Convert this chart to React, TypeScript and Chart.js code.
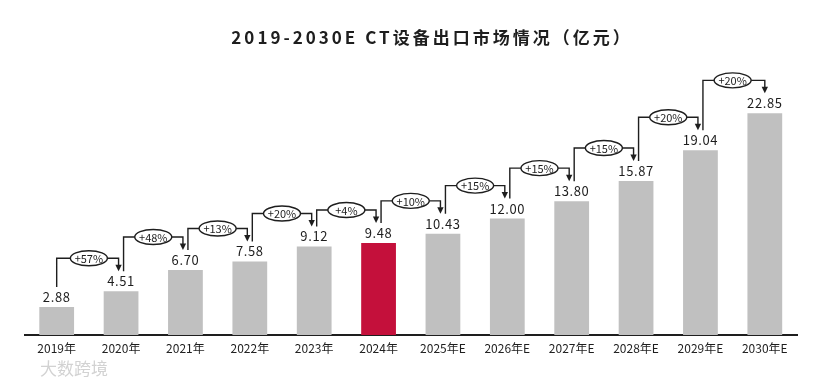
import React, { useEffect, useRef } from "react";
import { Chart, registerables } from "chart.js";

Chart.register(...registerables);

const categories = ["2019年", "2020年", "2021年", "2022年", "2023年", "2024年", "2025年E", "2026年E", "2027年E", "2028年E", "2029年E", "2030年E"];
const values = [2.88, 4.51, 6.7, 7.58, 9.12, 9.48, 10.43, 12.0, 13.8, 15.87, 19.04, 22.85];
const growthLabels = ["+57%", "+48%", "+13%", "+20%", "+4%", "+10%", "+15%", "+15%", "+15%", "+20%", "+20%"];
const highlightIndex = 5;
const titleText = "2019-2030E CT设备出口市场情况（亿元）";

const GRAY = "#c0c0c0";
const RED = "#c4103b";
const INK = "#1e1e1e";
const FONT = '"Noto Sans CJK SC", "Noto Sans", sans-serif';

const overlayPlugin = {
  id: "overlay",
  afterDatasetsDraw(chart: any) {
    const ctx = chart.ctx as CanvasRenderingContext2D;
    const meta = chart.getDatasetMeta(0);
    const bars = meta.data as any[];
    ctx.save();

    // value labels
    ctx.fillStyle = INK;
    ctx.font = `13px ${FONT}`;
    (ctx as any).letterSpacing = "0.6px";
    ctx.textAlign = "center";
    ctx.textBaseline = "middle";
    bars.forEach((b, i) => {
      ctx.fillText(values[i].toFixed(2), b.x, b.y - 10);
    });
    (ctx as any).letterSpacing = "0px";

    // growth brackets
    ctx.strokeStyle = INK;
    ctx.lineWidth = 1.4;
    for (let i = 0; i < bars.length - 1; i++) {
      const a = bars[i];
      const b = bars[i + 1];
      const xs = a.x + (i === 0 ? 0 : 2.5);
      const xe = b.x - (i === bars.length - 2 ? 0 : 2.5);
      const ys = a.y - 20;
      const yh = b.y - 33;
      const ye = b.y - 20;
      ctx.beginPath();
      ctx.moveTo(xs, ys);
      ctx.lineTo(xs, yh);
      ctx.lineTo(xe, yh);
      ctx.lineTo(xe, ye - 6);
      ctx.stroke();
      // arrow head
      ctx.beginPath();
      ctx.moveTo(xe - 3.2, ye - 6.5);
      ctx.lineTo(xe + 3.2, ye - 6.5);
      ctx.lineTo(xe, ye);
      ctx.closePath();
      ctx.fillStyle = INK;
      ctx.fill();
      // oval
      const cx = (a.x + b.x) / 2;
      ctx.beginPath();
      ctx.ellipse(cx, yh, 18.5, 7.5, 0, 0, Math.PI * 2);
      ctx.fillStyle = "#ffffff";
      ctx.fill();
      ctx.stroke();
      ctx.fillStyle = INK;
      ctx.font = `11px ${FONT}`;
      ctx.fillText(growthLabels[i], cx, yh + 0.5);
    }

    // title
    ctx.font = `bold 17px ${FONT}`;
    (ctx as any).letterSpacing = "3px";
    ctx.fillStyle = INK;
    ctx.textAlign = "center";
    ctx.fillText(titleText, 432, 38);
    (ctx as any).letterSpacing = "0px";

    // source mark
    ctx.font = `17px ${FONT}`;
    ctx.fillStyle = "#d2d2d2";
    ctx.textAlign = "left";
    ctx.fillText("大数跨境", 40, 369);
    ctx.restore();
  },
};

export default function App() {
  const ref = useRef<HTMLCanvasElement | null>(null);
  useEffect(() => {
    if (!ref.current) return;
    const chart = new Chart(ref.current, {
      type: "bar",
      data: {
        labels: categories,
        datasets: [
          {
            data: values,
            backgroundColor: values.map((_, i) => (i === highlightIndex ? RED : GRAY)),
            barPercentage: 0.54,
            categoryPercentage: 1,
            borderWidth: 0,
          },
        ],
      },
      options: {
        responsive: false,
        animation: false,
        layout: { padding: { left: 24.5, right: 34, top: 63.4, bottom: 0 } },
        plugins: { legend: { display: false }, tooltip: { enabled: false }, title: { display: false } },
        scales: {
          x: {
            grid: { display: false, drawTicks: false },
            border: { display: true, color: INK, width: 2 },
            ticks: { color: INK, font: { family: FONT, size: 12 }, padding: 6, maxRotation: 0, autoSkip: false },
            afterFit: (scale: any) => {
              scale.height = 50;
            },
          },
          y: { display: false, min: 0, max: 28 },
        },
      },
      plugins: [overlayPlugin],
    });
    return () => chart.destroy();
  }, []);
  return (
    <div style={{ position: "absolute", left: 0, top: 0, width: 831, height: 385, background: "#fff" }}>
      <canvas ref={ref} width={831} height={385} />
    </div>
  );
}
